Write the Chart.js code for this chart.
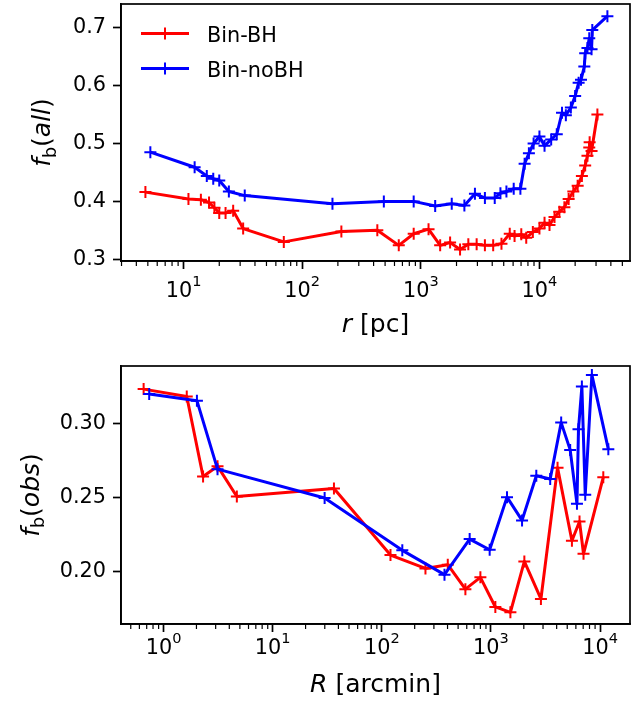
<!DOCTYPE html>
<html>
<head>
<meta charset="utf-8">
<script src="https://cdn.jsdelivr.net/npm/chart.js@4.4.0/dist/chart.umd.min.js"></script>
<style>
  html, body { margin: 0; padding: 0; background: #fff; }
  #wrap { position: relative; width: 639px; height: 702px; }
  canvas { position: absolute; left: 0; }
</style>
</head>
<body>
<div id="wrap">
  <canvas id="topChart" width="639" height="345" style="top:0"></canvas>
  <canvas id="bottomChart" width="639" height="357" style="top:345px"></canvas>
</div>
<script>
// top panel: f_b(all) vs r [pc]
const topBH_r = [4.77, 11.0, 14.0, 16.4, 18.2, 20.0, 22.6, 26.2, 31.8, 70, 214, 430, 652, 871, 1162, 1456, 1766, 2142, 2515, 2956, 3470, 4075, 4786, 5620, 6170, 7030, 7740, 8800, 10000, 11040, 12160, 13400, 14730, 16230, 17630, 19300, 21000, 22800, 24300, 25400, 26300, 26500, 27500, 30800];
const topBH_f = [0.416, 0.404, 0.403, 0.398, 0.389, 0.380, 0.380, 0.384, 0.353, 0.330, 0.348, 0.350, 0.324, 0.344, 0.352, 0.324, 0.329, 0.317, 0.326, 0.326, 0.324, 0.324, 0.327, 0.344, 0.340, 0.343, 0.337, 0.347, 0.353, 0.363, 0.359, 0.373, 0.382, 0.390, 0.404, 0.417, 0.427, 0.444, 0.462, 0.479, 0.493, 0.502, 0.487, 0.550];
const topNoBH_r = [5.25, 12.4, 15.7, 17.8, 20.0, 24.1, 32.8, 180, 488, 871, 1322, 1823, 2330, 2860, 3470, 4200, 4690, 5270, 6070, 6910, 7500, 8150, 8930, 10000, 11040, 12560, 14000, 15500, 16700, 18400, 20000, 21400, 22400, 23900, 24300, 25400, 26300, 27500, 27900, 37400];
const topNoBH_f = [0.485, 0.459, 0.444, 0.439, 0.436, 0.417, 0.410, 0.396, 0.400, 0.400, 0.392, 0.396, 0.393, 0.413, 0.406, 0.406, 0.414, 0.417, 0.422, 0.422, 0.465, 0.483, 0.500, 0.512, 0.496, 0.507, 0.516, 0.553, 0.549, 0.562, 0.582, 0.605, 0.610, 0.633, 0.656, 0.665, 0.682, 0.663, 0.696, 0.720];
const topYTicks = [0.3, 0.4, 0.5, 0.6, 0.7];

// bottom panel: f_b(obs) vs R [arcmin]
const botBH_R = [0.656, 1.63, 2.30, 3.12, 4.69, 36.4, 120, 251, 402, 583, 800, 1097, 1507, 2023, 2870, 4075, 5520, 6480, 7050, 10700];
const botBH_f = [0.323, 0.318, 0.264, 0.271, 0.2505, 0.256, 0.211, 0.202, 0.2045, 0.188, 0.196, 0.176, 0.1724, 0.2067, 0.1814, 0.2700, 0.2207, 0.2337, 0.2119, 0.2636];
const botNoBH_R = [0.738, 2.02, 3.12, 29.9, 154, 375, 638, 973, 1403, 1927, 2603, 3490, 4400, 5320, 6140, 6340, 6810, 7310, 8410, 11900];
const botNoBH_f = [0.3197, 0.3152, 0.269, 0.2495, 0.2142, 0.1978, 0.2218, 0.2146, 0.2501, 0.2344, 0.2645, 0.2623, 0.3004, 0.282, 0.2456, 0.296, 0.3247, 0.2517, 0.3326, 0.2825];
const botYTicks = [0.20, 0.25, 0.30];

const seriesNames = ['Bin-BH', 'Bin-noBH'];
const seriesColors = ['#ff0000', '#0000ff'];

const FONT = '"DejaVu Sans", sans-serif';
const TICK_SIZE = 20.8;
const LABEL_SIZE = 25;

// mathtext-ish text: parts are {t, it, small, sub, sup}
function partFont(p, size) {
  const s = p.small ? size * 0.7 : size;
  return (p.it ? 'italic ' : '') + s + 'px ' + FONT;
}
function richWidth(ctx, parts, size) {
  let w = 0;
  parts.forEach(p => { ctx.font = partFont(p, size); w += ctx.measureText(p.t).width; });
  return w;
}
function drawRich(ctx, parts, cx, y, size) {
  let x = cx - richWidth(ctx, parts, size) / 2;
  ctx.textAlign = 'left';
  ctx.textBaseline = 'alphabetic';
  parts.forEach(p => {
    ctx.font = partFont(p, size);
    const dy = p.sub ? 0.22 * size : (p.sup ? -0.52 * size : 0);
    ctx.fillText(p.t, x, y + dy);
    x += ctx.measureText(p.t).width;
  });
}

function logTicks(min, max) {
  const out = [];
  for (let e = Math.floor(Math.log10(min)); e <= Math.ceil(Math.log10(max)); e++) {
    for (let m = 1; m <= 9; m++) {
      const v = m * Math.pow(10, e);
      if (v >= min && v <= max) out.push({value: v, major: m === 1});
    }
  }
  return out;
}

// spines, minor ticks, 10^n labels, axis titles, legend
const mplFrame = {
  id: 'mplFrame',
  afterDraw(chart, args, opts) {
    const {ctx, chartArea: a} = chart;
    const xs = chart.scales.x;
    ctx.save();
    ctx.strokeStyle = '#000';
    ctx.lineWidth = 1.7;
    ctx.strokeRect(a.left, a.top, a.right - a.left, a.bottom - a.top);

    ctx.lineWidth = 1.2;
    xs.ticks.forEach(t => {
      if (t.major) return;
      const px = xs.getPixelForValue(t.value);
      ctx.beginPath();
      ctx.moveTo(px, a.bottom);
      ctx.lineTo(px, a.bottom + 5);
      ctx.stroke();
    });

    ctx.fillStyle = '#000';
    xs.ticks.forEach(t => {
      if (!t.major) return;
      const px = xs.getPixelForValue(t.value);
      const exp = String(Math.round(Math.log10(t.value)));
      drawRich(ctx, [{t: '10'}, {t: exp, small: true, sup: true}], px, a.bottom + opts.tickLabelDy, TICK_SIZE);
    });

    drawRich(ctx, opts.xTitle, (a.left + a.right) / 2, a.bottom + opts.xTitleDy, LABEL_SIZE);

    ctx.save();
    ctx.translate(opts.yTitleX, (a.top + a.bottom) / 2);
    ctx.rotate(-Math.PI / 2);
    drawRich(ctx, opts.yTitle, 0, 0, LABEL_SIZE);
    ctx.restore();

    if (opts.legend) {
      chart.data.datasets.forEach((ds, i) => {
        const y = opts.legend.y0 + i * opts.legend.dy;
        ctx.strokeStyle = ds.borderColor;
        ctx.lineWidth = 3;
        ctx.beginPath();
        ctx.moveTo(opts.legend.x0, y);
        ctx.lineTo(opts.legend.x0 + 48, y);
        ctx.stroke();
        ctx.lineWidth = 2;
        ctx.beginPath();
        ctx.moveTo(opts.legend.x0 + 24 - 6, y);
        ctx.lineTo(opts.legend.x0 + 24 + 6, y);
        ctx.moveTo(opts.legend.x0 + 24, y - 6);
        ctx.lineTo(opts.legend.x0 + 24, y + 6);
        ctx.stroke();
        ctx.fillStyle = '#000';
        ctx.font = TICK_SIZE + 'px ' + FONT;
        ctx.textAlign = 'left';
        ctx.textBaseline = 'alphabetic';
        ctx.fillText(ds.label, opts.legend.x0 + 66, y + 8);
      });
    }
    ctx.restore();
  }
};

function makeDataset(i, xs, ys) {
  return {
    label: seriesNames[i],
    data: xs.map((x, k) => ({x: x, y: ys[k]})),
    borderColor: seriesColors[i],
    backgroundColor: seriesColors[i],
    borderWidth: 3,
    borderJoinStyle: 'round',
    tension: 0,
    pointStyle: 'cross',
    pointRadius: 6,
    pointHoverRadius: 6,
    pointBorderWidth: 2,
    order: 2 - i
  };
}

function makeChart(id, cfg) {
  const axisGrid = {
    display: true,
    drawOnChartArea: false,
    drawTicks: true,
    tickLength: 8,
    tickWidth: 1.7,
    tickColor: c => (c.tick && c.tick.major === false) ? 'rgba(0,0,0,0)' : '#000'
  };
  return new Chart(document.getElementById(id), {
    type: 'line',
    data: {datasets: cfg.datasets},
    plugins: [mplFrame],
    options: {
      responsive: false,
      animation: false,
      events: [],
      layout: {autoPadding: false, padding: {top: cfg.padTop, right: 9, left: 0, bottom: 0}},
      plugins: {
        legend: {display: false},
        tooltip: {enabled: false},
        mplFrame: cfg.frame
      },
      scales: {
        x: {
          type: 'logarithmic',
          min: cfg.xMin,
          max: cfg.xMax,
          afterBuildTicks: s => { s.ticks = logTicks(cfg.xMin, cfg.xMax); },
          afterFit: s => { s.height = cfg.xHeight; s.paddingLeft = 0; s.paddingRight = 0; },
          ticks: {display: false},
          grid: axisGrid,
          border: {display: true, color: '#000', width: 1.7}
        },
        y: {
          type: 'linear',
          min: cfg.yMin,
          max: cfg.yMax,
          afterBuildTicks: s => { s.ticks = cfg.yTicks.map(v => ({value: v})); },
          afterFit: s => { s.width = 121; s.paddingTop = 0; s.paddingBottom = 0; },
          ticks: {
            color: '#000',
            padding: 7,
            font: {family: 'DejaVu Sans', size: TICK_SIZE},
            callback: v => Number(v).toFixed(cfg.yDecimals)
          },
          grid: {display: true, drawOnChartArea: false, drawTicks: true, tickLength: 8, tickWidth: 1.7, tickColor: '#000'},
          border: {display: true, color: '#000', width: 1.7}
        }
      }
    }
  });
}

makeChart('topChart', {
  datasets: [makeDataset(0, topBH_r, topBH_f), makeDataset(1, topNoBH_r, topNoBH_f)],
  padTop: 4, xHeight: 84,
  xMin: 2.97, xMax: 58000, yMin: 0.297, yMax: 0.741,
  yTicks: topYTicks, yDecimals: 1,
  frame: {
    tickLabelDy: 36, xTitleDy: 71, yTitleX: 50,
    xTitle: [{t: 'r', it: true}, {t: ' [pc]'}],
    yTitle: [{t: 'f', it: true}, {t: 'b', small: true, sub: true}, {t: '('}, {t: 'all', it: true}, {t: ')'}],
    legend: {x0: 141, y0: 33.5, dy: 35}
  }
});

makeChart('bottomChart', {
  datasets: [makeDataset(0, botBH_R, botBH_f), makeDataset(1, botNoBH_R, botNoBH_f)],
  padTop: 21, xHeight: 78,
  xMin: 0.407, xMax: 18800, yMin: 0.1645, yMax: 0.3386,
  yTicks: botYTicks, yDecimals: 2,
  frame: {
    tickLabelDy: 30, xTitleDy: 68, yTitleX: 38.5,
    xTitle: [{t: 'R', it: true}, {t: ' [arcmin]'}],
    yTitle: [{t: 'f', it: true}, {t: 'b', small: true, sub: true}, {t: '('}, {t: 'obs', it: true}, {t: ')'}],
    legend: null
  }
});
</script>
</body>
</html>
